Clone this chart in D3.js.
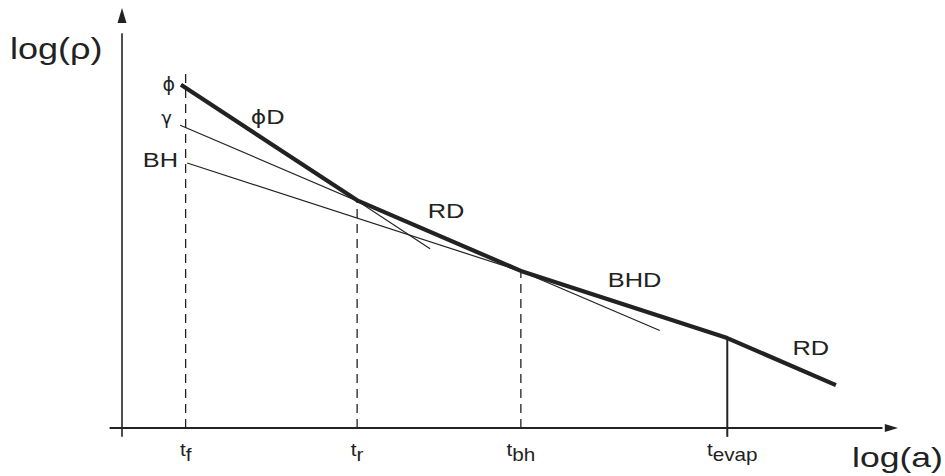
<!DOCTYPE html>
<html>
<head>
<meta charset="utf-8">
<script src="https://cdn.jsdelivr.net/npm/d3@7"></script>
<style>
  html, body { margin: 0; padding: 0; background: #fff; }
  svg { display: block; }
  text { font-family: "Liberation Sans", Arial, Helvetica, sans-serif; fill: #222; }
  .greek { font-family: "DejaVu Sans", "Liberation Sans", sans-serif; }
</style>
</head>
<body>
<script>
// ---- data (log a, log rho in arbitrary units) ----
const ticks = ["tf", "tr", "tbh", "tevap"];
const tickSubs = ["f", "r", "bh", "evap"];
const tickX = [8.2, 30.3, 51.4, 78.0];

// total (thick) density curve
const totalX = [7.6, 30.3, 51.4, 78.0, 92.0];
const totalY = [81.7, 54.2, 37.4, 21.4, 10.2];

// individual component lines (start / end)
const phiX = [7.6, 39.7];   const phiY = [81.7, 42.7];
const gamX = [7.5, 69.3];   const gamY = [72.1, 23.2];
const bhX  = [8.4, 78.0];   const bhY  = [63.1, 21.4];

// dashed guide tops
const guideTop = [85.2, 54.2, 37.4, 21.4];

const lineLabels = ["ϕ", "γ", "BH"];
const phaseLabels = ["D", "RD", "BHD", "RD"];
const phaseX = [16.6, 39.4, 62.6, 86.4];
const phaseY = [72.4, 50.0, 33.6, 17.4];

// ---- layout ----
const W = 945, H = 476;
const svg = d3.select("body").append("svg").attr("width", W).attr("height", H);
const x = d3.scaleLinear().domain([0, 100]).range([122, 898]);
const y = d3.scaleLinear().domain([0, 100]).range([428, 8]);
const ink = "#222";
const sx = 1.24;

// axes
svg.append("line").attr("x1", x(0)).attr("x2", x(0)).attr("y1", y(-2.1)).attr("y2", y(94))
  .attr("stroke", ink).attr("stroke-width", 1.6);
svg.append("path").attr("d", `M${x(0)},${y(100)} L${x(0)-4.5},${y(96.4)} L${x(0)+4.5},${y(96.4)} Z`).attr("fill", ink);
svg.append("line").attr("x1", x(-1.6)).attr("x2", x(98)).attr("y1", y(0)).attr("y2", y(0))
  .attr("stroke", ink).attr("stroke-width", 2);
svg.append("path").attr("d", `M${x(100)},${y(0)} L${x(98.3)},${y(0)-4} L${x(98.3)},${y(0)+4} Z`).attr("fill", ink);

// guides
tickX.forEach((tx, i) => {
  const last = i === tickX.length - 1;
  svg.append("line")
    .attr("x1", x(tx)).attr("x2", x(tx))
    .attr("y1", last ? y(-2.1) : y(0)).attr("y2", y(guideTop[i]))
    .attr("stroke", ink).attr("stroke-width", last ? 2 : 1.3)
    .attr("stroke-dasharray", last ? null : "9,6");
});

// thin component lines
const thin = [[phiX, phiY], [gamX, gamY], [bhX, bhY]];
thin.forEach(([xs, ys]) => {
  svg.append("line").attr("x1", x(xs[0])).attr("y1", y(ys[0]))
    .attr("x2", x(xs[1])).attr("y2", y(ys[1]))
    .attr("stroke", ink).attr("stroke-width", 1.2);
});

// thick total line
const line = d3.line().x(d => x(d[0])).y(d => y(d[1]));
svg.append("path").datum(totalX.map((v, i) => [v, totalY[i]]))
  .attr("d", line).attr("fill", "none").attr("stroke", ink)
  .attr("stroke-width", 4.2).attr("stroke-linejoin", "round");

function label(px, py, txt, size, anchor, s) {
  return svg.append("text")
    .attr("transform", `translate(${px},${py}) scale(${s || sx},1)`)
    .attr("font-size", size).attr("text-anchor", anchor || "start").text(txt);
}

// line labels at start of component lines
label(175, 91, lineLabels[0], 19, "end", 1.0).attr("class", "greek");
label(172, 124, lineLabels[1], 18, "end", 1.0).attr("class", "greek");
label(178, 167, lineLabels[2], 20.5, "end");

// phase labels
phaseLabels.forEach((t, i) => {
  const el = label(x(phaseX[i]), y(phaseY[i]), null, 20.5, "start");
  if (i === 0) el.append("tspan").attr("class", "greek").attr("font-size", 19).text("ϕ");
  el.append("tspan").text(t);
});

// tick labels
tickX.forEach((tx, i) => {
  const t = svg.append("text")
    .attr("transform", `translate(${x(tx) + (i === 3 ? 5 : 0)},456) scale(1.15,1)`)
    .attr("font-size", 18).attr("text-anchor", "middle");
  t.append("tspan").text(ticks[i][0]);
  t.append("tspan").attr("dy", 5).text(tickSubs[i]);
});

// axis titles
label(10, 59, "log(ρ)", 30, "start", 1.2);
label(852, 467, "log(a)", 28, "start", 1.27);
</script>
</body>
</html>
